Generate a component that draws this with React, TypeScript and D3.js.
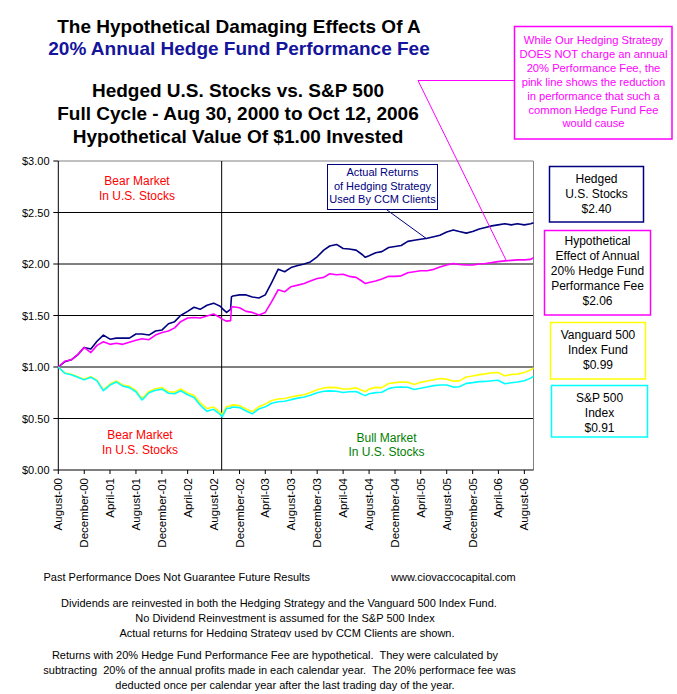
import React from "react";
import * as d3 from "d3";

const DATES = [
  "2000-08-30","2000-09-29","2000-10-30","2000-11-30","2000-12-29",
  "2001-01-30","2001-02-28","2001-03-30","2001-04-30","2001-05-30","2001-06-29","2001-07-30","2001-08-30","2001-09-28","2001-10-30","2001-11-30","2001-12-31",
  "2002-01-30","2002-02-28","2002-03-28","2002-04-30","2002-05-30","2002-06-28","2002-07-30","2002-08-30","2002-09-30","2002-10-09","2002-10-30","2002-11-18","2002-11-22","2002-11-29","2002-12-30",
  "2003-01-30","2003-02-28","2003-03-31","2003-04-30","2003-05-30","2003-06-30","2003-07-30","2003-08-29","2003-09-30","2003-10-30","2003-11-28","2003-12-30",
  "2004-01-30","2004-02-27","2004-03-30","2004-04-30","2004-05-28","2004-06-30","2004-07-30","2004-08-12","2004-08-30","2004-09-30","2004-10-29","2004-11-30","2004-12-30",
  "2005-01-28","2005-02-28","2005-03-30","2005-04-29","2005-05-30","2005-06-30","2005-07-29","2005-08-30","2005-09-30","2005-10-28","2005-11-30","2005-12-30",
  "2006-01-30","2006-02-28","2006-03-30","2006-04-28","2006-05-30","2006-06-30","2006-07-28","2006-08-30","2006-09-29","2006-10-12",
];

const HEDGED = [
  1.00, 1.05, 1.07, 1.12, 1.19,
  1.175, 1.25, 1.31, 1.27, 1.28, 1.28, 1.28, 1.32, 1.32, 1.31, 1.35, 1.36,
  1.42, 1.44, 1.50, 1.54, 1.58, 1.56, 1.60, 1.62, 1.59, 1.57, 1.53, 1.56, 1.68, 1.69, 1.70,
  1.70, 1.68, 1.67, 1.70, 1.82, 1.95, 1.925, 1.965, 1.985, 2.00, 2.02, 2.07,
  2.135, 2.175, 2.19, 2.15, 2.145, 2.135, 2.09, 2.065, 2.08, 2.11, 2.12, 2.16, 2.17,
  2.18, 2.22, 2.23, 2.24, 2.25, 2.265, 2.28, 2.31, 2.33, 2.315, 2.30, 2.315,
  2.34, 2.355, 2.37, 2.38, 2.39, 2.38, 2.39, 2.38, 2.39, 2.40,
];

const WITH_FEE = [
  1.00, 1.055, 1.07, 1.12, 1.19,
  1.14, 1.21, 1.245, 1.22, 1.23, 1.22, 1.24, 1.26, 1.275, 1.265, 1.31, 1.335,
  1.35, 1.38, 1.44, 1.475, 1.48, 1.475, 1.495, 1.515, 1.48, 1.465, 1.445, 1.45, 1.58, 1.585, 1.575,
  1.54, 1.53, 1.505, 1.53, 1.635, 1.75, 1.73, 1.78, 1.795, 1.81, 1.835, 1.86,
  1.87, 1.905, 1.895, 1.90, 1.88, 1.87, 1.83, 1.81, 1.82, 1.835, 1.855, 1.88, 1.88,
  1.885, 1.915, 1.925, 1.935, 1.935, 1.948, 1.97, 1.99, 2.005, 1.995, 1.99, 1.99,
  2.00, 2.005, 2.013, 2.023, 2.03, 2.035, 2.04, 2.04, 2.045, 2.06,
];

const VANGUARD = [
  1.00, 0.943, 0.93, 0.905, 0.882,
  0.907, 0.873, 0.778, 0.835, 0.865, 0.826, 0.812, 0.772, 0.692, 0.763, 0.789, 0.80,
  0.76, 0.756, 0.787, 0.748, 0.724, 0.655, 0.597, 0.612, 0.562, 0.537, 0.618, 0.622, 0.63, 0.632, 0.625,
  0.593, 0.566, 0.615, 0.64, 0.675, 0.69, 0.694, 0.708, 0.722, 0.731, 0.753, 0.78,
  0.797, 0.802, 0.80, 0.786, 0.788, 0.797, 0.772, 0.76, 0.785, 0.802, 0.80, 0.84, 0.848,
  0.854, 0.853, 0.83, 0.851, 0.864, 0.877, 0.888, 0.882, 0.863, 0.865, 0.903, 0.913,
  0.926, 0.933, 0.944, 0.946, 0.914, 0.928, 0.931, 0.946, 0.972, 0.99,
];

const SP500 = [
  1.00, 0.94, 0.925, 0.90, 0.875,
  0.90, 0.865, 0.77, 0.825, 0.855, 0.815, 0.80, 0.76, 0.68, 0.75, 0.775, 0.785,
  0.745, 0.74, 0.77, 0.73, 0.705, 0.63, 0.57, 0.589, 0.54, 0.515, 0.599, 0.60, 0.61, 0.611, 0.606,
  0.573, 0.545, 0.593, 0.613, 0.648, 0.662, 0.667, 0.683, 0.698, 0.709, 0.726, 0.75,
  0.765, 0.768, 0.765, 0.753, 0.76, 0.762, 0.733, 0.722, 0.74, 0.751, 0.755, 0.79, 0.803,
  0.806, 0.803, 0.782, 0.793, 0.806, 0.819, 0.825, 0.825, 0.805, 0.808, 0.841, 0.848,
  0.858, 0.86, 0.867, 0.871, 0.838, 0.847, 0.854, 0.867, 0.892, 0.91,
];

const TICK_LABELS = [
  "August-00","December-00","April-01","August-01","December-01","April-02","August-02",
  "December-02","April-03","August-03","December-03","April-04","August-04","December-04",
  "April-05","August-05","December-05","April-06","August-06",
];

const Y_TICKS = [0, 0.5, 1, 1.5, 2, 2.5, 3];
const START_DATE = "2000-08-30";
const END_DATE = "2006-10-12";
const DIVIDER_DATE = "2002-10-07";

const FONT = "'Liberation Sans', Arial, Helvetica, sans-serif";

function Lines({ x, y, lines, size, fill, lh, anchor = "middle", weight = "normal" }: any) {
  return (
    <>
      {lines.map((t: string, i: number) => (
        <text key={i} x={x} y={y + i * lh} fontSize={size} fill={fill} textAnchor={anchor}
          fontWeight={weight} fontFamily={FONT} style={{ whiteSpace: "pre" }}>{t}</text>
      ))}
    </>
  );
}

export default function App() {
  const parse = d3.timeParse("%Y-%m-%d");
  const dates = DATES.map((d) => parse(d) as Date);
  const x = d3.scaleTime()
    .domain([parse(START_DATE) as Date, parse(END_DATE) as Date])
    .range([58.3, 533.5]);
  const y = d3.scaleLinear().domain([0, 3]).range([470, 161]);
  const fmt = d3.format("$.2f");
  const start = parse(START_DATE) as Date;
  const ticks = TICK_LABELS.map((l, k) => ({ label: l, date: d3.timeMonth.offset(start, 4 * k) }));

  const mk = (vals: number[]) =>
    d3.line<number>().x((_, i) => x(dates[i])).y((v) => y(v))(vals) || "";

  const series = [
    { vals: HEDGED, color: "#000080" },
    { vals: WITH_FEE, color: "#ff00ff" },
    { vals: VANGUARD, color: "#ffff00" },
    { vals: SP500, color: "#00ffff" },
  ];

  const x0 = x.range()[0];
  const x1 = x.range()[1];
  const divX = x(parse(DIVIDER_DATE) as Date);

  return (
    <svg width={677} height={694} style={{ position: "absolute", left: 0, top: 0, background: "#fff" }}
      fontFamily={FONT}>
      <rect x={0} y={0} width={677} height={694} fill="#fff" />
      <defs>
        <clipPath id="cutline">
          <rect x={0} y={600} width={677} height={37.5} />
        </clipPath>
      </defs>

      {/* Titles */}
      <text x={239} y={33} textAnchor="middle" fontSize={19} fontWeight="bold" fill="#000">The Hypothetical Damaging Effects Of A</text>
      <text x={239} y={55} textAnchor="middle" fontSize={19} fontWeight="bold" fill="#14149c">20% Annual Hedge Fund Performance Fee</text>
      <text x={238} y={96.5} textAnchor="middle" fontSize={19} fontWeight="bold" fill="#000">Hedged U.S. Stocks vs. S&amp;P 500</text>
      <text x={238} y={120} textAnchor="middle" fontSize={19} fontWeight="bold" fill="#000">Full Cycle - Aug 30, 2000 to Oct 12, 2006</text>
      <text x={238} y={143.3} textAnchor="middle" fontSize={19} fontWeight="bold" fill="#000">Hypothetical Value Of $1.00 Invested</text>

      {/* gridlines */}
      {Y_TICKS.filter((t) => t > 0 && t < 3).map((t) => (
        <line key={t} x1={x0} x2={x1} y1={y(t)} y2={y(t)} stroke="#000" strokeWidth={1} />
      ))}
      <line x1={x0} x2={x1} y1={y(3)} y2={y(3)} stroke="#808080" strokeWidth={1} />
      <line x1={x1} x2={x1} y1={y(3)} y2={y(0)} stroke="#808080" strokeWidth={1} />
      <line x1={divX} x2={divX} y1={y(3)} y2={y(0)} stroke="#000" strokeWidth={1} />

      {/* axes */}
      <line x1={x0} x2={x0} y1={y(3)} y2={y(0)} stroke="#000" strokeWidth={1} />
      <line x1={x0} x2={x1} y1={y(0)} y2={y(0)} stroke="#000" strokeWidth={1} />
      {Y_TICKS.map((t) => (
        <g key={t}>
          <line x1={x0 - 5} x2={x0} y1={y(t)} y2={y(t)} stroke="#000" />
          <text x={49.5} y={y(t) + 4} textAnchor="end" fontSize={11} fill="#000">{fmt(t)}</text>
        </g>
      ))}
      {ticks.map((t) => (
        <g key={t.label}>
          <line x1={x(t.date)} x2={x(t.date)} y1={y(0)} y2={y(0) + 4} stroke="#000" />
          <text transform={`translate(${x(t.date) + 4},478) rotate(-90)`} textAnchor="end" fontSize={11.5} fill="#000">{t.label}</text>
        </g>
      ))}

      {/* series */}
      {series.map((s, i) => (
        <path key={i} d={mk(s.vals)} fill="none" stroke={s.color} strokeWidth={1.6} strokeLinejoin="round" />
      ))}

      {/* plot annotations */}
      <Lines x={137} y={185} lines={["Bear Market", "In U.S. Stocks"]} size={12} fill="#ff0000" lh={15} />
      <Lines x={140} y={438.5} lines={["Bear Market", "In U.S. Stocks"]} size={12} fill="#ff0000" lh={15} />
      <Lines x={386.5} y={441.5} lines={["Bull Market", "In U.S. Stocks"]} size={12} fill="#008000" lh={14.5} />

      {/* Actual returns callout */}
      <rect x={327.5} y={164.5} width={110} height={45} fill="#fff" stroke="#000080" strokeWidth={1} />
      <Lines x={382.5} y={176} lines={["Actual Returns", "of Hedging Strategy", "Used By CCM Clients"]} size={11} fill="#000080" lh={13.6} />
      <line x1={387} y1={210} x2={427} y2={239} stroke="#000080" strokeWidth={1} />

      {/* Top-right callout */}
      <line x1={418} y1={80.5} x2={514} y2={80.5} stroke="#ff00ff" strokeWidth={1} />
      <line x1={418} y1={80.5} x2={506} y2={260} stroke="#ff00ff" strokeWidth={1} />
      <rect x={514.5} y={26.5} width={157.5} height={112.5} fill="#fff" stroke="#ff00ff" strokeWidth={1.5} />
      <Lines x={593.5} y={44} lines={[
        "While Our Hedging Strategy",
        "DOES NOT charge an annual",
        "20% Performance Fee, the",
        "pink line shows the reduction",
        "in performance that such a",
        "common Hedge Fund Fee",
        "would cause",
      ]} size={11.2} fill="#ff00ff" lh={13.9} />

      {/* Legend boxes */}
      <rect x={549.5} y={166.5} width={94} height={55.5} fill="#fff" stroke="#000080" strokeWidth={1.5} />
      <Lines x={596.5} y={183.3} lines={["Hedged", "U.S. Stocks", "$2.40"]} size={12} fill="#000" lh={15} />

      <rect x={544.5} y={230.5} width={106} height={84.5} fill="#fff" stroke="#ff00ff" strokeWidth={1.5} />
      <Lines x={597.5} y={245} lines={["Hypothetical", "Effect of Annual", "20% Hedge Fund", "Performance Fee", "$2.06"]} size={12} fill="#000" lh={15} />

      <rect x={550.5} y={322.5} width={95} height={56.5} fill="#fff" stroke="#ffff00" strokeWidth={1.5} />
      <Lines x={598} y={339.3} lines={["Vanguard 500", "Index Fund", "$0.99"]} size={12} fill="#000" lh={15} />

      <rect x={551.5} y={385.5} width={96} height={51.5} fill="#fff" stroke="#00ffff" strokeWidth={1.5} />
      <Lines x={599.5} y={401.7} lines={["S&P 500", "Index", "$0.91"]} size={12} fill="#000" lh={15} />

      {/* Footer */}
      <text x={43.5} y={581} fontSize={11} fill="#000">Past Performance Does Not Guarantee Future Results</text>
      <text x={391} y={581} fontSize={11} fill="#000">www.ciovaccocapital.com</text>
      <text x={279} y={607} textAnchor="middle" fontSize={11} fill="#000">Dividends are reinvested in both the Hedging Strategy and the Vanguard 500 Index Fund.</text>
      <text x={285} y={622} textAnchor="middle" fontSize={11} fill="#000">No Dividend Reinvestment is assumed for the S&amp;P 500 Index</text>
      <g clipPath="url(#cutline)">
        <text x={287} y={637} textAnchor="middle" fontSize={11} fill="#000">Actual returns for Hedging Strategy used by CCM Clients are shown.</text>
      </g>
      <text x={275} y={659} textAnchor="middle" fontSize={11} fill="#000" style={{ whiteSpace: "pre" }}>Returns with 20% Hedge Fund Performance Fee are hypothetical.  They were calculated by</text>
      <text x={279.5} y={674} textAnchor="middle" fontSize={11} fill="#000" style={{ whiteSpace: "pre" }}>subtracting  20% of the annual profits made in each calendar year.  The 20% performace fee was</text>
      <text x={285} y={689} textAnchor="middle" fontSize={11} fill="#000">deducted once per calendar year after the last trading day of the year.</text>
    </svg>
  );
}
